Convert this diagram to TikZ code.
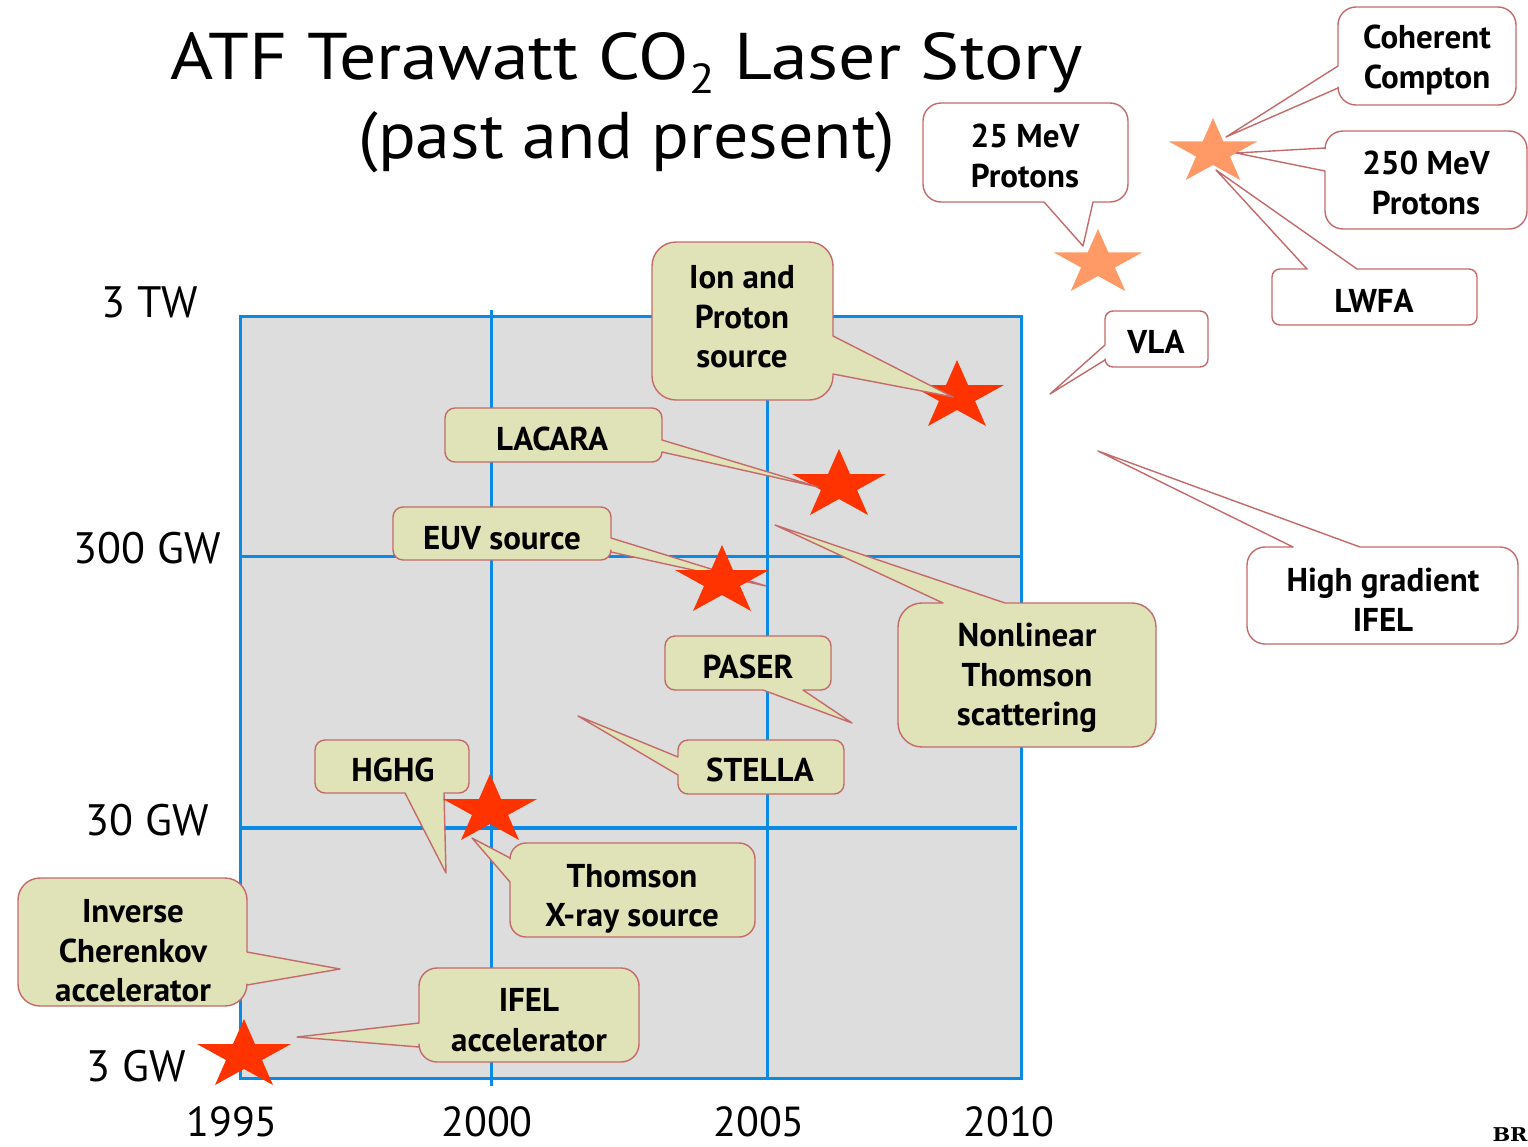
\documentclass[tikz,border=0pt]{standalone}
\usepackage{fontspec}
\setmainfont{PT Sans}
\newfontfamily\brfont[FakeStretch=1.1]{DejaVu Serif}
\newfontfamily\titlea[FakeStretch=1.117]{PT Sans}
\newfontfamily\titleb[FakeStretch=1.06]{PT Sans}
\definecolor{gridblue}{HTML}{0A8AE2}
\definecolor{plotgrey}{HTML}{DDDDDD}
\definecolor{calloutfill}{HTML}{E0E2B8}
\definecolor{calloutline}{HTML}{C46A6A}
\definecolor{starred}{HTML}{FF3300}
\definecolor{starorange}{HTML}{FF9966}
\newcommand{\txtfont}{\fontsize{33}{39.5}\selectfont\bfseries}
\newcommand{\axfont}{\fontsize{44}{48}\selectfont}
\newcommand{\yrfont}{\fontsize{42}{46}\selectfont}
\tikzset{
  callg/.style={draw=calloutline,fill=calloutfill,line width=1.4pt,line join=round},
  callw/.style={draw=calloutline,fill=white,line width=1.4pt,line join=round},
  gridline/.style={draw=gridblue,line width=3pt},
  ctext/.style={align=center,inner sep=0pt,font=\txtfont,text=black},
  axlabel/.style={inner sep=0pt,font=\axfont,text=black},
  yrlabel/.style={inner sep=0pt,font=\yrfont,text=black},
  flatstar/.pic={\fill[#1] (0,-33)--(11,-8)--(47,-8)--(18,8)--(29,33)--(0,17)--(-29,33)--(-18,8)--(-47,-8)--(-11,-8)--cycle;}
}
\begin{document}
\begin{tikzpicture}[x=1pt,y=-1pt]
\useasboundingbox (0,0) rectangle (1528,1146);
% plot
\fill[plotgrey] (240,316) rectangle (1021,1078);
\draw[gridline] (240,316) rectangle (1021,1078);
\draw[gridline] (491,310) -- (491,1086);
\draw[gridline] (767,316) -- (767,1078);
\draw[gridline] (240,556) -- (1021,556);
\draw[gridline,line width=4.5pt] (240,828) -- (1017,828);
% stars under callouts
\pic at (957,393) {flatstar=starred};
\pic at (839,482) {flatstar=starred};
\pic[scale=.94] at (1213,149) {flatstar=starorange};
\pic[scale=.94] at (1098,260) {flatstar=starorange};
% callouts
\draw[callg] (953,397) -- (833,336) [rounded corners=24pt] -- (833,242) -- (652,242) -- (652,400) -- (833,400) [sharp corners] -- (833,374) -- cycle;
\draw[callg] (818,487) -- (662,440) [rounded corners=10pt] -- (662,408) -- (445,408) -- (445,462) -- (662,462) [sharp corners] -- (662,452) -- cycle;
\draw[callg] (766,586) -- (611,538) [rounded corners=10pt] -- (611,507) -- (393,507) -- (393,560) -- (611,560) [sharp corners] -- (611,552) -- cycle;
\draw[callg] (852,723) -- (803,690) [rounded corners=10pt] -- (831,690) -- (831,636) -- (665,636) -- (665,690) [sharp corners] -- (763,690) -- cycle;
\draw[callg] (578,716) -- (678,757) [rounded corners=10pt] -- (678,740) -- (844,740) -- (844,794) -- (678,794) [sharp corners] -- (678,775) -- cycle;
\draw[callg] (446,873) -- (444,793) [rounded corners=10pt] -- (469,793) -- (469,740) -- (315,740) -- (315,793) [sharp corners] -- (405,793) -- cycle;
\draw[callg] (472,838) -- (510,858) [rounded corners=16pt] -- (510,843) -- (755,843) -- (755,937) -- (510,937) [sharp corners] -- (510,882) -- cycle;
\draw[callg] (340,969) -- (247,952) [rounded corners=22pt] -- (247,878) -- (18,878) -- (18,1006) -- (247,1006) [sharp corners] -- (247,985) -- cycle;
\draw[callg] (297,1037) -- (419,1023) [rounded corners=18pt] -- (419,968) -- (639,968) -- (639,1062) -- (419,1062) [sharp corners] -- (419,1047) -- cycle;
\draw[callg] (775,525) -- (1005,603) [rounded corners=24pt] -- (1156,603) -- (1156,747) -- (898,747) -- (898,603) [sharp corners] -- (943,603) -- cycle;
\draw[callw] (1226,137) -- (1338,66) [rounded corners=18pt] -- (1338,7) -- (1516,7) -- (1516,105) -- (1338,105) [sharp corners] -- (1338,88) -- cycle;
\draw[callw] (1236,153) -- (1325,148) [rounded corners=18pt] -- (1325,131) -- (1527,131) -- (1527,229) -- (1325,229) [sharp corners] -- (1325,171) -- cycle;
\draw[callw] (1216,170) -- (1357,269) [rounded corners=8pt] -- (1477,269) -- (1477,325) -- (1272,325) -- (1272,269) [sharp corners] -- (1307,269) -- cycle;
\draw[callw] (1083,246) -- (1093,202) [rounded corners=18pt] -- (1128,202) -- (1128,103) -- (923,103) -- (923,202) [sharp corners] -- (1044,202) -- cycle;
\draw[callw] (1050,394) -- (1105,345) [rounded corners=8pt] -- (1105,311) -- (1208,311) -- (1208,367) -- (1105,367) [sharp corners] -- (1105,360) -- cycle;
\draw[callw] (1098,451) -- (1360,547) [rounded corners=18pt] -- (1518,547) -- (1518,644) -- (1247,644) -- (1247,547) [sharp corners] -- (1293,547) -- cycle;
% stars over callouts
\pic at (722,578) {flatstar=starred};
\pic at (490,807) {flatstar=starred};
\pic at (244,1052) {flatstar=starred};
% callout texts
\node[ctext] (ion) at (742,317) {Ion and\\Proton\\source};
\node[ctext] (lacara) at (552,439) {LACARA};
\node[ctext] (euv) at (502,538) {EUV source};
\node[ctext] (paser) at (748,667) {PASER};
\node[ctext] (stella) at (760,770) {STELLA};
\node[ctext] (hghg) at (393,770) {HGHG};
\node[ctext] (thomson) at (632,899) {Thomson\\X-ray source};
\node[ctext] (cherenkov) at (133,951) {Inverse\\Cherenkov\\accelerator};
\node[ctext] (ifel) at (529,1020) {IFEL\\accelerator};
\node[ctext] (nonlinear) at (1027,678) {Nonlinear\\Thomson\\scattering};
\node[ctext] (compton) at (1427,60) {Coherent\\Compton};
\node[ctext] (p250) at (1426,183) {250 MeV\\Protons};
\node[ctext] (lwfa) at (1374,301) {LWFA};
\node[ctext] (p25) at (1025,156) {25 MeV\\Protons};
\node[ctext] (vla) at (1156,342) {VLA};
\node[ctext] (hg) at (1383,600) {High gradient\\IFEL};
% title
\node[inner sep=0pt,font=\titlea\fontsize{66}{82}\selectfont] (title1) at (627,63)
  {ATF Terawatt CO\raisebox{-0.22em}{\fontsize{42}{42}\selectfont 2} Laser Story};
\node[inner sep=0pt,font=\titleb\fontsize{66}{82}\selectfont] (title2) at (627,142)
  {(past and present)};
% axis labels
\node[axlabel] (tw3) at (150,302) {3 TW};
\node[axlabel] (gw300) at (147,548) {300 GW};
\node[axlabel] (gw30) at (147,820) {30 GW};
\node[axlabel] (gw3) at (136,1066) {3 GW};
\node[yrlabel] (y95) at (232,1122) {1995};
\node[yrlabel] (y00) at (487,1122) {2000};
\node[yrlabel] (y05) at (759,1122) {2005};
\node[yrlabel] (y10) at (1009,1122) {2010};
\node[inner sep=0pt,font=\brfont\fontsize{19}{19}\selectfont\bfseries] (br) at (1510,1135) {BR};
\end{tikzpicture}
\end{document}
